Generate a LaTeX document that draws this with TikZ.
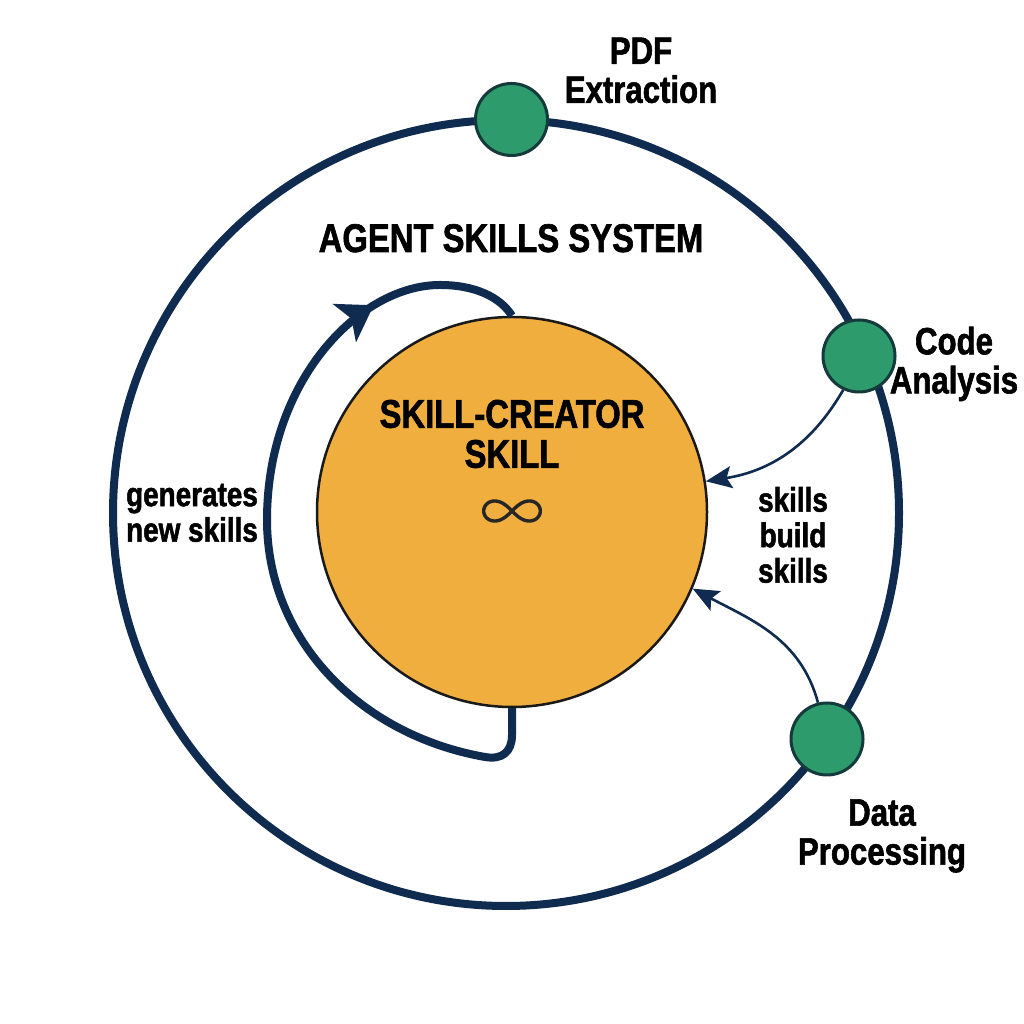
\documentclass[tikz,border=0pt]{standalone}
\usepackage{fontspec}
\setmainfont{Liberation Sans}[FakeStretch=0.82, BoldFeatures={FakeBold=1.5}]
\usetikzlibrary{arrows.meta,decorations.markings}
\definecolor{navy}{HTML}{0F2B4F}
\definecolor{skillgreen}{HTML}{2E9B6D}
\definecolor{greenline}{HTML}{143A3C}
\definecolor{coreorange}{HTML}{F0AE3F}
\tikzset{
  ringstyle/.style={circle, draw=navy, line width=8pt, minimum size=786pt, inner sep=0pt},
  corestyle/.style={circle, fill=coreorange, draw=black!90, line width=2.5pt, minimum size=390pt, inner sep=0pt},
  hub/.style={circle, fill=skillgreen, draw=greenline, line width=3pt, minimum size=72pt, inner sep=0pt},
  loopline/.style={draw=navy, line width=8pt, line join=round,
    decoration={markings, mark=at position 0.815 with {\arrow{Stealth[length=34pt,width=44pt,inset=8pt]}}},
    postaction={decorate}},
  link/.style={draw=navy, line width=2.6pt, -{Stealth[length=26pt,width=22pt,inset=5pt]}},
  outlbl/.style={align=center, inner sep=0pt, font=\bfseries\fontsize{38}{39}\selectfont},
  innerlbl/.style={align=center, inner sep=0pt, font=\bfseries\fontsize{34}{35.5}\selectfont},
  titlelbl/.style={inner sep=0pt, font=\bfseries\fontsize{40}{40}\selectfont},
  corelbl/.style={align=center, inner sep=0pt, font=\bfseries\fontsize{40}{40}\selectfont}
}
\begin{document}
\begin{tikzpicture}[x=1pt,y=1pt]
\path[fill=white] (0,0) rectangle (1024,1024);
\useasboundingbox (0,0) rectangle (1024,1024);
\node[ringstyle] (ring) at (506,511) {};
\node[corestyle] (core) at (512,512) {};
\draw[loopline] (core.south) -- (512,289) .. controls (512,272) and (502,264) .. (485,267)
  .. controls (360,289) and (267,384) .. (267,504)
  .. controls (267,644) and (360,739) .. (440,739)
  .. controls (475,739) and (500,727) .. (core.north);
\node[hub] (pdf) at (511.5,904.5) {};
\node[hub] (code) at (859,668) {};
\node[hub] (data) at (827,285) {};
\draw[link] (code.-115) to[out=240,in=9] (core.9);
\draw[link] (data.104) to[out=105,in=-28] (core.-23);
\draw[line width=3.4pt, draw=black!85, line join=round]
  plot[domain=0:360, samples=145] ({512+28.3*cos(\x)/(1+sin(\x)*sin(\x))}, {513+28.3*sin(\x)*cos(\x)/(1+sin(\x)*sin(\x))});
\node[outlbl] (pdflbl) at (641,953.6) {PDF\\Extraction};
\node[outlbl] (codelbl) at (954,660) {Code\\Analysis};
\node[outlbl] (datalbl) at (882,188) {Data\\Processing};
\node[titlelbl, anchor=base] (title) at (511,772) {AGENT SKILLS SYSTEM};
\node[corelbl] (corelbl) at (512,590) {SKILL-CREATOR\\SKILL};
\node[innerlbl] (genlbl) at (192,511) {generates\\new skills};
\node[innerlbl] (sbslbl) at (793,489) {skills\\build\\skills};
\end{tikzpicture}
\end{document}
